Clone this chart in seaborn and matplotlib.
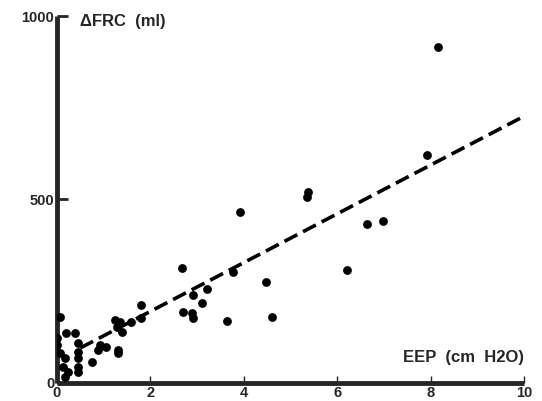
import numpy as np
import pandas as pd
import matplotlib
matplotlib.use("Agg")
import matplotlib.pyplot as plt
import seaborn as sns

# points : EEP (cm H2O) et variation de CRF (ml)
eep = [0.06, 0.2, 0.39, 0.0, 0.45, 0.0, 0.45, 0.06, 0.92, 0.88, 1.05, 0.75,
       0.45, 0.17, 0.13, 0.24, 0.17, 0.45, 0.45, 1.35, 1.28, 1.39, 1.31, 1.31,
       1.24, 1.58, 1.8, 1.8, 2.68, 2.7, 2.89, 2.91, 2.91, 3.1, 3.21, 3.64,
       3.77, 3.92, 4.47, 4.6, 5.35, 5.37, 6.2, 6.64, 6.98, 7.92, 8.16]
dfrc = [180, 136, 136, 122, 109, 104, 84, 82, 104, 90, 98, 57,
        68, 68, 44, 30, 16, 44, 30, 166, 153, 139, 90, 82,
        172, 166, 212, 177, 313, 193, 191, 177, 240, 218, 256, 169,
        302, 466, 275, 180, 507, 520, 308, 433, 441, 621, 915]

# droite de régression
slope = 66.5
intercept = 62
line_x = np.array([0.5, 10.0])

df = pd.DataFrame({'EEP': eep, 'dFRC': dfrc})
df_line = pd.DataFrame({'EEP': line_x, 'dFRC': intercept + slope * line_x})

sns.set_style("ticks")
plt.rcParams['font.family'] = ['Liberation Sans', 'DejaVu Sans']

fig = plt.figure(figsize=(5.42, 4.01), dpi=100)
ax = fig.add_axes([0.105, 0.045, 0.862, 0.915])

sns.lineplot(data=df_line, x='EEP', y='dFRC', ax=ax, color='black',
             linewidth=2.6, linestyle=(0, (4, 1.8)))
sns.scatterplot(data=df, x='EEP', y='dFRC', ax=ax, color='black', s=40,
                edgecolor='black', linewidth=0, zorder=3)

ax.set_xlim(0, 10)
ax.set_ylim(0, 1000)
ax.set_xticks([0, 2, 4, 6, 8, 10])
ax.set_yticks([0, 500, 1000])
ax.set_xticklabels(['0', '2', '4', '6', '8', '10'], fontweight='bold', fontsize=10.5)
ax.set_yticklabels(['0', '500', '1000'], fontweight='bold', fontsize=10.5)
ax.tick_params(axis='x', direction='in', length=5, width=1, pad=2)
ax.tick_params(axis='y', direction='in', length=8, width=2, pad=2)
ax.set_xlabel('')
ax.set_ylabel('')

sns.despine(ax=ax)
for side in ['left', 'bottom']:
    ax.spines[side].set_linewidth(3.5)
    ax.spines[side].set_capstyle('butt')

ax.text(0.05, 0.985, '\u0394FRC  (ml)', transform=ax.transAxes, fontsize=12,
        fontweight='bold', ha='left', va='center')
ax.text(1.0, 0.07, 'EEP  (cm  H2O)', transform=ax.transAxes, fontsize=12,
        fontweight='bold', ha='right', va='center')

fig.savefig('out.png', dpi=100)
